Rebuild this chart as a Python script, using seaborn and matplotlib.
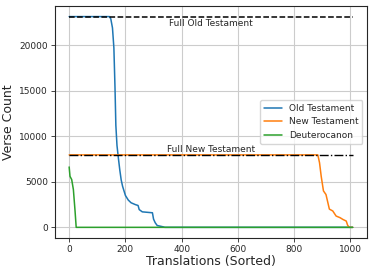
import matplotlib
matplotlib.use('Agg')
import matplotlib.pyplot as plt
import pandas as pd
import seaborn as sns

# verse count per translation, sorted (x = translation index)
full_ot = 23145
full_nt = 7957
n_last = 1008

ot_x = [0, 143, 148, 154, 159, 163, 166, 170, 175, 180, 185, 190, 200, 210, 220, 235, 245,
        249, 260, 296, 300, 306, 313, 325, 335, 340, n_last]
ot_y = [23145, 23145, 22900, 21900, 19700, 15300, 11200, 9000, 7600, 6300, 5200, 4500, 3500,
        3000, 2700, 2500, 2400, 1950, 1700, 1600, 900, 500, 200, 120, 50, 0, 0]

nt_x = [0, 884, 890, 896, 904, 913, 925, 937, 949, 963, 973, 985, 990, 996, n_last]
nt_y = [7957, 7957, 7100, 5600, 4000, 3600, 2000, 1800, 1240, 1060, 870, 690, 220, 0, 0]

dc_x = [0, 3, 9, 15, 21, 25, n_last]
dc_y = [6630, 5600, 5250, 4150, 1780, 0, 0]

series = ['Old Testament', 'New Testament', 'Deuterocanon']


def main():
    sns.set_style('ticks', {'axes.grid': True})
    colors = sns.color_palette('tab10', 3)

    df = pd.concat([
        pd.DataFrame({'x': ot_x, 'y': ot_y, 'part': series[0]}),
        pd.DataFrame({'x': nt_x, 'y': nt_y, 'part': series[1]}),
        pd.DataFrame({'x': dc_x, 'y': dc_y, 'part': series[2]}),
    ])

    fig = plt.figure(figsize=(3.74, 2.75), dpi=100)
    ax = fig.add_axes([0.147, 0.135, 0.834, 0.843])

    sns.lineplot(data=df, x='x', y='y', hue='part', hue_order=series,
                 palette=colors, estimator=None, sort=False, linewidth=1.1, ax=ax)

    ax.plot([0, n_last], [full_ot, full_ot], 'k--', linewidth=1.1)
    ax.plot([0, n_last], [full_nt, full_nt], 'k-.', linewidth=1.0)
    ax.text(n_last / 2, full_ot - 250, 'Full Old Testament', ha='center', va='top', fontsize=6.5)
    ax.text(n_last / 2, full_nt + 150, 'Full New Testament', ha='center', va='bottom', fontsize=6.5)

    ax.set_xticks([0, 200, 400, 600, 800, 1000])
    ax.set_yticks([0, 5000, 10000, 15000, 20000])
    ax.tick_params(labelsize=6.5, length=3, width=0.6, pad=2)
    ax.set_xlabel('Translations (Sorted)', fontsize=9, labelpad=1)
    ax.set_ylabel('Verse Count', fontsize=9, labelpad=3)
    for s in ax.spines.values():
        s.set_linewidth(0.8)

    ax.legend(loc='center right', fontsize=6.5, title=None, frameon=True)

    fig.savefig('out.png', dpi=100)


if __name__ == '__main__':
    main()
